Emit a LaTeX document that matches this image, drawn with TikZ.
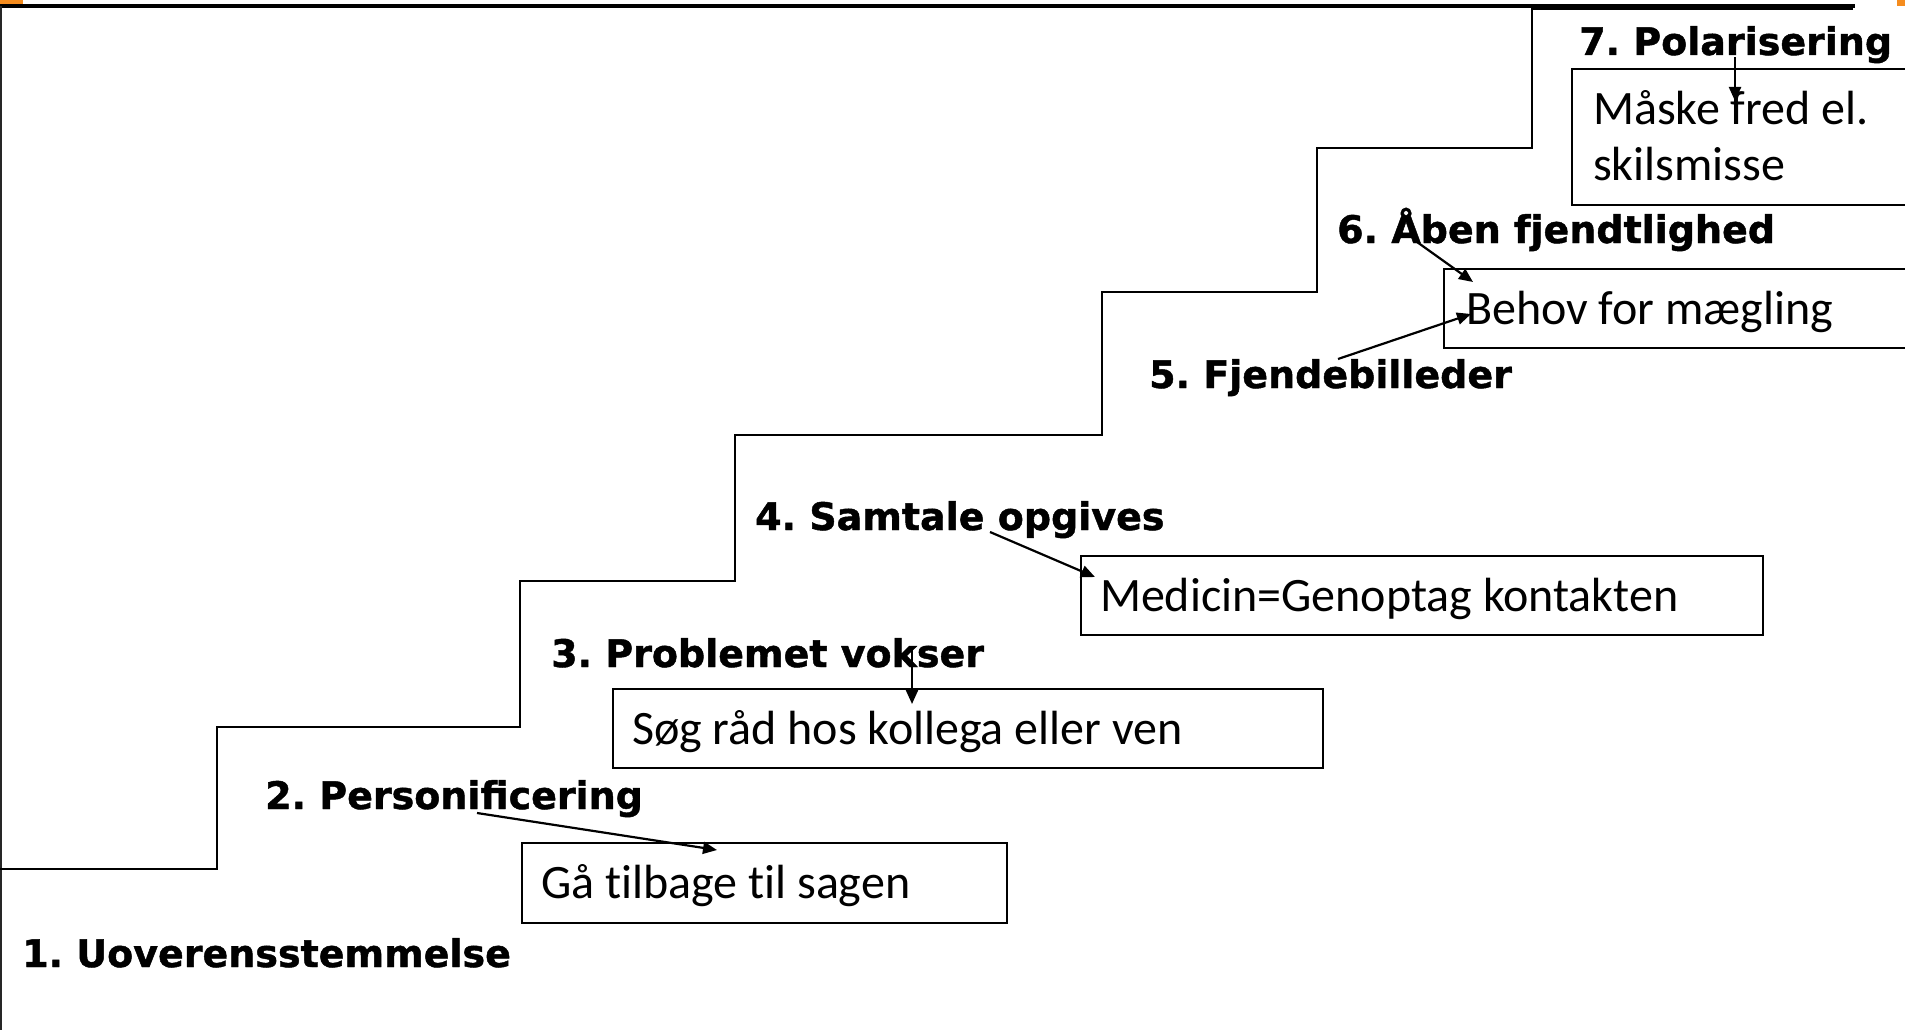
\documentclass[tikz,border=0pt]{standalone}
\usepackage{fontspec}
\setmainfont{Carlito}[Ligatures=NoCommon]
\newfontfamily\labfont{DejaVu Sans}[BoldFeatures={FakeBold=1.2}]
\usetikzlibrary{arrows.meta}
\definecolor{slideorange}{RGB}{245,140,30}
\frenchspacing
\begin{document}
\begin{tikzpicture}[x=1pt,y=-1pt,
  stage/.style={anchor=base west,inner sep=0pt,font=\labfont\bfseries\fontsize{38}{44}\selectfont},
  remedy/.style={draw,line width=2pt,anchor=north west,inner xsep=19pt,inner ysep=0pt,
    align=left,text height=31pt,text depth=0pt,font=\fontsize{48}{56.5}\selectfont,
    execute at begin node={\spaceskip=0pt\xspaceskip=0pt}},
  stair/.style={line width=2pt,line join=miter},
  pointer/.style={line width=2.2pt,-{Triangle[length=14pt,width=12pt]}}]
\useasboundingbox (0,0) rectangle (1905,1030);
\clip (0,0) rectangle (1905,1030);
% slide frame
\fill[slideorange] (0,0) rectangle (23,4.5);
\fill[slideorange] (1897,0) rectangle (1905,6);
\draw[line width=3.5pt] (0,6) -- (1855,6);
\draw[line width=2pt,black!85] (1,6) -- (1,1030);
% staircase
\draw[stair] (0,869) -- (217,869) -- (217,727) -- (520,727) -- (520,581)
  -- (735,581) -- (735,435) -- (1102,435) -- (1102,292) -- (1317,292)
  -- (1317,148) -- (1532,148) -- (1532,9) -- (1853,9);
% stage labels
\node[stage] (s1) at (22,967) {1. Uoverensstemmelse};
\node[stage] (s2) at (265,809) {2. Personificering};
\node[stage] (s3) at (551,667) {3. Problemet vokser};
\node[stage] (s4) at (755,530) {4. Samtale opgives};
\node[stage] (s5) at (1149,388) {5. Fjendebilleder};
\node[stage] (s6) at (1337,243) {6. Åben fjendtlighed};
\node[stage] (s7) at (1579,55) {7. Polarisering};
% remedy boxes
\node[remedy,minimum width=485pt,minimum height=80pt,text width=447pt] (r2) at (521,842) {Gå tilbage til sagen};
\node[remedy,minimum width=710pt,minimum height=79pt,text width=672pt] (r3) at (612,688) {Søg råd hos kollega eller ven};
\node[remedy,minimum width=682pt,minimum height=79pt,text width=644pt,inner xsep=17pt] (r4) at (1080,555) {Medicin=Genoptag kontakten};
\node[remedy,minimum width=520pt,minimum height=79pt,text width=476pt,inner xsep=22pt] (r6) at (1443,268) {Behov for mægling};
\node[remedy,minimum width=400pt,minimum height=136pt,text width=358pt,inner xsep=21pt,text depth=56.5pt] (r7) at (1571,68) {Måske fred el.\\skilsmisse};
% arrow end points
\coordinate (a2) at (477,813); \coordinate (b2) at (717,850);
\coordinate (a3) at (912,650); \coordinate (b3) at (912,704);
\coordinate (a4) at (990,532); \coordinate (b4) at (1095,577);
\coordinate (a5) at (1338,359); \coordinate (b5) at (1471,314);
\coordinate (a6) at (1417,242); \coordinate (b6) at (1473,282);
\coordinate (a7) at (1735,57); \coordinate (b7) at (1735,101);
\draw[pointer] (a2) -- (b2);
\draw[pointer] (a3) -- (b3);
\draw[pointer] (a4) -- (b4);
\draw[pointer] (a5) -- (b5);
\draw[pointer] (a6) -- (b6);
\draw[pointer] (a7) -- (b7);
\end{tikzpicture}
\end{document}
